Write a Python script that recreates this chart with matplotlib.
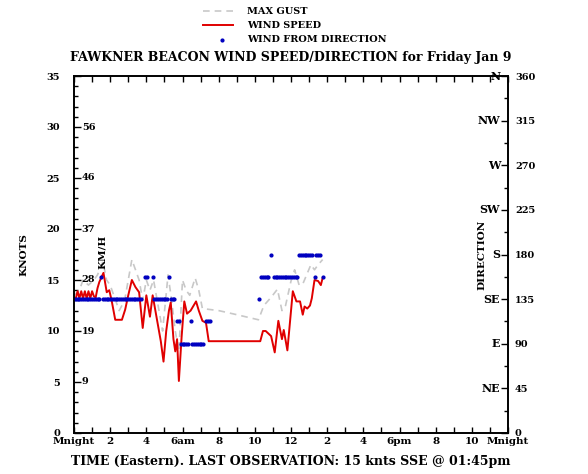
import numpy as np
import matplotlib.pyplot as plt
from matplotlib.lines import Line2D
from matplotlib.transforms import blended_transform_factory

plt.rcParams['font.family'] = ['DejaVu Serif']
plt.rcParams['font.weight'] = 'bold'

# wind speed (knots) vs hour of day
speed_hours = [0.0, 0.1, 0.2, 0.3, 0.4, 0.5, 0.6, 0.7, 0.8, 0.9, 1.0, 1.1, 1.2, 1.3, 1.4,
               1.5, 1.63, 1.81, 1.95, 2.08, 2.28, 2.45, 2.65, 2.83, 3.0, 3.2, 3.4, 3.6,
               3.8, 4.0, 4.2, 4.35, 4.5, 4.6, 4.8, 4.95, 5.1, 5.25, 5.35, 5.5, 5.6, 5.7,
               5.8, 5.95, 6.1, 6.25, 6.45, 6.75, 6.9, 7.1, 7.3, 7.45, 10.3, 10.45, 10.6,
               10.9, 11.1, 11.3, 11.5, 11.6, 11.8, 12.1, 12.3, 12.5, 12.65, 12.75, 12.9,
               13.05, 13.15, 13.3, 13.5, 13.65, 13.75]
speed_kt = [13.2, 13.2, 13.9, 13.2, 13.9, 13.2, 13.9, 13.2, 13.9, 13.2, 13.9, 13.4, 13.3,
            14.2, 14.8, 15.2, 15.7, 13.8, 14.0, 13.0, 11.1, 11.1, 11.1, 12.1, 13.5, 15.0,
            14.3, 13.8, 10.3, 13.5, 11.4, 13.5, 12.0, 11.0, 9.0, 7.0, 10.0, 12.0, 12.8,
            9.2, 8.0, 9.2, 5.1, 9.4, 12.9, 11.7, 12.0, 12.9, 12.0, 11.0, 10.8, 9.0, 9.0,
            10.0, 10.0, 9.5, 7.9, 11.0, 9.2, 10.1, 8.1, 13.9, 12.9, 12.9, 11.6, 12.4,
            12.2, 12.5, 13.2, 15.0, 14.9, 14.5, 15.2]

# max gust (knots)
gust_hours = [0.0, 0.3, 0.5, 0.8, 1.1, 1.3, 1.6, 1.8, 2.0, 2.2, 2.5, 2.8, 3.0, 3.2, 3.4,
              3.6, 3.8, 4.0, 4.2, 4.4, 4.6, 4.9, 5.2, 5.4, 5.6, 5.8, 6.0, 6.2, 6.4, 6.7,
              6.9, 7.1, 8.0, 9.0, 10.2, 10.5, 10.9, 11.25, 11.5, 11.7, 12.0, 12.2, 12.45,
              12.65, 13.1, 13.3, 13.5, 13.75]
gust_kt = [13.5, 14.0, 15.0, 14.5, 15.0, 15.5, 16.8, 15.0, 14.5, 13.5, 12.0, 13.0, 15.0,
           17.0, 16.0, 15.0, 13.0, 15.0, 14.0, 15.0, 13.0, 10.0, 15.5, 13.0, 10.0, 8.0,
           15.0, 14.0, 13.5, 15.2, 14.0, 12.2, 12.0, 11.6, 11.1, 12.5, 13.3, 14.1, 12.0,
           12.5, 14.9, 16.0, 14.5, 14.6, 16.5, 16.0, 16.5, 17.0]

# wind-from direction (degrees)
dir_hours = [0.0, 0.1, 0.2, 0.3, 0.4, 0.5, 0.6, 0.7, 0.8, 0.9, 1.0, 1.1, 1.2, 1.3, 1.4,
             1.5, 1.6, 1.7, 1.8, 1.9, 2.0, 2.1, 2.2, 2.3, 2.4, 2.5, 2.6, 2.7, 2.8, 2.9,
             3.0, 3.1, 3.2, 3.3, 3.4, 3.5, 3.6, 3.7, 3.9, 4.05, 4.35, 4.45, 4.55, 4.65,
             4.75, 4.85, 4.95, 5.05, 5.15, 5.25, 5.35, 5.45, 5.55, 5.7, 5.8, 5.9, 6.0,
             6.1, 6.2, 6.3, 6.45, 6.55, 6.65, 6.75, 6.85, 6.95, 7.05, 7.15, 7.3, 7.4, 7.5,
             10.25, 10.35, 10.45, 10.55, 10.65, 10.75, 10.9, 11.05, 11.15, 11.25, 11.35,
             11.45, 11.55, 11.65, 11.75, 11.85, 11.95, 12.05, 12.15, 12.25, 12.35, 12.45,
             12.55, 12.65, 12.75, 12.85, 12.95, 13.05, 13.15, 13.3, 13.4, 13.5, 13.6, 13.75]
dir_deg = [135, 135, 135, 135, 135, 135, 135, 135, 135, 135, 135, 135, 135, 135, 135,
           157.5, 135, 135, 135, 135, 135, 135, 135, 135, 135, 135, 135, 135, 135, 135,
           135, 135, 135, 135, 135, 135, 135, 135, 157.5, 157.5, 157.5, 135, 135, 135,
           135, 135, 135, 135, 135, 157.5, 135, 135, 135, 112.5, 112.5, 90, 90,
           90, 90, 90, 112.5, 90, 90, 90, 90, 90, 90, 90, 112.5, 112.5, 112.5,
           135, 157.5, 157.5, 157.5, 157.5, 157.5, 180, 157.5, 157.5, 157.5, 157.5,
           157.5, 157.5, 157.5, 157.5, 157.5, 157.5, 157.5, 157.5, 157.5, 157.5, 180,
           180, 180, 180, 180, 180, 180, 180, 157.5, 180, 180, 180, 157.5]

xtick_hours = [0, 2, 4, 6, 8, 10, 12, 14, 16, 18, 20, 22, 24]
xtick_labels = ['Mnight', '2', '4', '6am', '8', '10', '12', '2', '4', '6pm', '8', '10', 'Mnight']
knot_ticks = [0, 5, 10, 15, 20, 25, 30, 35]
kmh_ticks = [5, 10, 15, 20, 25, 30]
kmh_labels = ['9', '19', '28', '37', '46', '56']
dir_ticks = [0, 45, 90, 135, 180, 225, 270, 315, 360]
compass_ticks = [45, 90, 135, 180, 225, 270, 315, 360]
compass_labels = ['NE', 'E', 'SE', 'S', 'SW', 'W', 'NW', 'N']

red = '#e00000'
grey = '#c8c8c8'
blue = '#0000c0'

fig = plt.figure(figsize=(5.88, 4.74), dpi=100)
ax = fig.add_axes([74 / 588, 41 / 474, 434 / 588, 357 / 474])
ax2 = ax.twinx()

ax.plot(gust_hours, gust_kt, color=grey, lw=1.2, ls=(0, (4, 3)))
ax.plot(speed_hours, speed_kt, color=red, lw=1.4)
ax2.plot(dir_hours, dir_deg, ls='none', marker='o', ms=2.0, color=blue, mec=blue)

ax.set_xlim(0, 24)
ax.set_ylim(0, 35)
ax2.set_ylim(0, 360)

ax.set_xticks(xtick_hours)
ax.set_xticklabels(xtick_labels, fontsize=7.5)
ax.set_xticks(range(25), minor=True)
ax.tick_params(axis='x', which='both', direction='in', top=True, length=4, width=1, pad=3)

ax.set_yticks(knot_ticks)
ax.set_yticklabels([str(k) for k in knot_ticks], fontsize=7)
ax.set_yticks(range(36), minor=True)
ax.tick_params(axis='y', which='major', direction='in', length=5, width=1, pad=10)
ax.tick_params(axis='y', which='minor', direction='in', length=3, width=1)

ax2.set_yticks(dir_ticks)
ax2.set_yticklabels([str(d) for d in dir_ticks], fontsize=7)
ax2.set_yticks(np.arange(0, 361, 22.5), minor=True)
ax2.tick_params(axis='y', which='major', direction='in', length=5, width=1, pad=5)
ax2.tick_params(axis='y', which='minor', direction='in', length=3, width=1)

for a in (ax, ax2):
    for s in a.spines.values():
        s.set_linewidth(1.2)

# km/h labels inside left axis
trans_l = blended_transform_factory(ax.transAxes, ax.transData)
for k, lab in zip(kmh_ticks, kmh_labels):
    ax.text(0.018, k, lab, transform=trans_l, fontsize=7, va='center', ha='left')
ax.text(0.065, 17.8, 'KM/H', transform=trans_l, fontsize=7.5, rotation=90, va='center', ha='center')
ax.text(-0.115, 0.5, 'KNOTS', transform=ax.transAxes, fontsize=7.5, rotation=90, va='center', ha='center')

# compass labels inside right axis
trans_r = blended_transform_factory(ax2.transAxes, ax2.transData)
for d, lab in zip(compass_ticks, compass_labels):
    ax2.text(0.982, d, lab, transform=trans_r, fontsize=8, va='center', ha='right')
ax2.text(0.94, 0.5, 'DIRECTION', transform=ax2.transAxes, fontsize=7.5, rotation=90, va='center', ha='center')

fig.text(291 / 588, 1 - 57 / 474, 'FAWKNER BEACON WIND SPEED/DIRECTION for Friday Jan 9',
         fontsize=9, ha='center', va='center')
fig.text(291 / 588, 1 - 462 / 474, 'TIME (Eastern). LAST OBSERVATION: 15 knts SSE @ 01:45pm',
         fontsize=9, ha='center', va='center')

# legend drawn at the top
leg_y = [11, 25, 40]
fig.add_artist(Line2D([203 / 588, 233 / 588], [1 - leg_y[0] / 474] * 2, color=grey, lw=1.2, ls=(0, (4, 3))))
fig.add_artist(Line2D([203 / 588, 233 / 588], [1 - leg_y[1] / 474] * 2, color=red, lw=1.4))
fig.add_artist(Line2D([222 / 588], [1 - leg_y[2] / 474], color=blue, ls='none', marker='o', ms=2.0))
for yy, lab in zip(leg_y, ['MAX GUST', 'WIND SPEED', 'WIND FROM DIRECTION']):
    fig.text(247 / 588, 1 - yy / 474, lab, fontsize=7, ha='left', va='center')

fig.savefig('out.png', dpi=100)
